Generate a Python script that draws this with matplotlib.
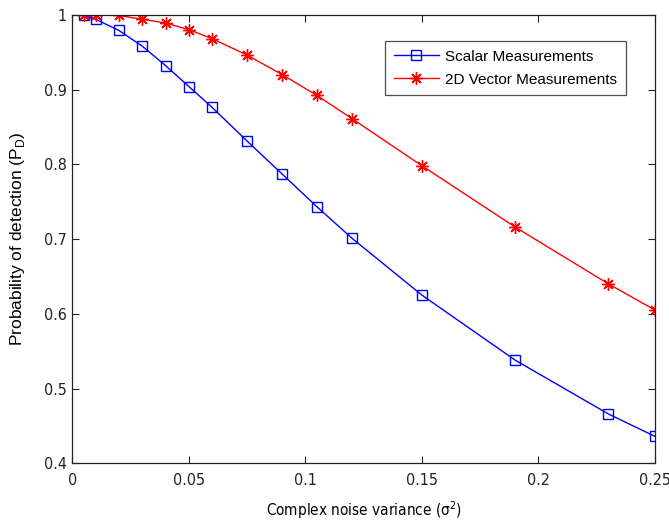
import matplotlib
matplotlib.use("Agg")
import matplotlib.pyplot as plt
from matplotlib.ticker import FixedLocator, FuncFormatter

plt.rcParams['font.family'] = ['Liberation Sans', 'DejaVu Sans']

noise_var = [0.005, 0.01, 0.02, 0.03, 0.04, 0.05, 0.06, 0.075, 0.09, 0.105,
             0.12, 0.15, 0.19, 0.23, 0.25]
pd_scalar = [0.999, 0.994, 0.979, 0.958, 0.932, 0.904, 0.876, 0.831, 0.787,
             0.743, 0.701, 0.625, 0.538, 0.466, 0.436]
pd_vector = [1.000, 1.000, 0.999, 0.994, 0.989, 0.980, 0.968, 0.946, 0.920,
             0.892, 0.861, 0.798, 0.716, 0.640, 0.605]
x_ticks = [0, 0.05, 0.1, 0.15, 0.2, 0.25]
y_ticks = [0.4, 0.5, 0.6, 0.7, 0.8, 0.9, 1.0]

fig = plt.figure(figsize=(6.69, 5.23), dpi=100)
ax = fig.add_axes([0.1081, 0.1141, 0.871, 0.8577])

asterisk = (8, 2, 0)
ax.plot(noise_var, pd_scalar, color='#0000ff', lw=1.0, marker='s', ms=7.5,
        mfc='none', mec='#0000ff', mew=1.0, label='Scalar Measurements')
ax.plot(noise_var, pd_vector, color='#ff0000', lw=1.0, marker=asterisk, ms=9,
        mfc='#ff0000', mec='#ff0000', mew=1.0, label='2D Vector Measurements')

ax.set_xlim(0, 0.25)
ax.set_ylim(0.4, 1.0)
ax.xaxis.set_major_locator(FixedLocator(x_ticks))
ax.yaxis.set_major_locator(FixedLocator(y_ticks))
fmt = FuncFormatter(lambda v, p: ('%g' % round(v, 3)))
ax.xaxis.set_major_formatter(fmt)
ax.yaxis.set_major_formatter(fmt)
ax.tick_params(direction='in', top=True, right=True, length=5, width=0.8,
               labelsize=11.5, colors='#222222')
ax.tick_params(axis='x', pad=7)
ax.tick_params(axis='y', pad=4)
for lab in ax.get_xticklabels() + ax.get_yticklabels():
    lab.set_fontstretch('condensed')
    lab.set_family(['DejaVu Sans'])
for s in ax.spines.values():
    s.set_linewidth(0.9)
    s.set_color('#222222')

ax.set_xlabel(r'Complex noise variance ($\mathregular{\sigma^2}$)', fontsize=11,
              labelpad=8, fontstretch='condensed', family=['DejaVu Sans'])
ax.set_ylabel(r'Probability of detection (P$_\mathregular{D}$)', fontsize=12.5,
              labelpad=12)

leg = ax.legend(loc='upper right', bbox_to_anchor=(0.950, 0.941),
                borderaxespad=0, frameon=True, fancybox=False,
                edgecolor='#222222', borderpad=0.55, handlelength=3.0,
                handletextpad=0.4, labelspacing=0.6,
                prop={'family': ['Liberation Sans', 'DejaVu Sans'], 'size': 11})
leg.get_frame().set_linewidth(0.9)

fig.savefig('out.png', dpi=100)
